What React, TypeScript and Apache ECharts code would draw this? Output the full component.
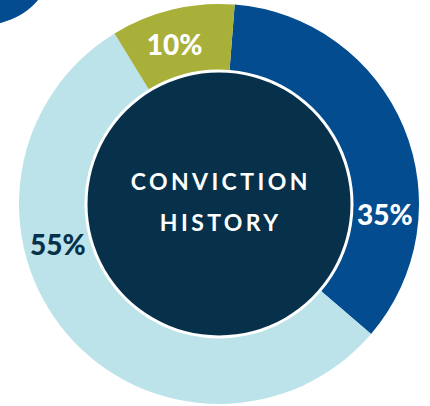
import React, { useEffect, useRef } from "react";
import * as echarts from "echarts";

const categories = ["Conviction A", "Conviction B", "Conviction C"];
const values = [35, 55, 10];
const valueLabels = ["35%", "55%", "10%"];
const colors = ["#024C8F", "#BCE3EA", "#A9B03A"];
const labelColors = ["#FFFFFF", "#07314A", "#FFFFFF"];
const labelAngles = [93.4, 256, 344.5];
const centerTitle = ["CONVICTION", "HISTORY"];

export default function App() {
  const ref = useRef<HTMLDivElement>(null);
  useEffect(() => {
    if (!ref.current) return;
    const chart = echarts.init(ref.current, null, { renderer: "svg" });
    const cx = 219;
    const cy = 204;
    const rIn = 134.5;
    const rOut = 200;
    const rLabel = 166;
    const spacing = 3.4;
    const labelGraphics = valueLabels.map((t, i) => {
      const a = (labelAngles[i] * Math.PI) / 180;
      return {
        type: "text",
        x: cx + rLabel * Math.sin(a),
        y: cy - rLabel * Math.cos(a),
        z: 10,
        style: {
          text: t,
          fill: labelColors[i],
          font: "900 28px Lato",
          textAlign: "center",
          textVerticalAlign: "middle",
        },
      };
    });
    chart.setOption({
      animation: false,
      backgroundColor: "#ffffff",
      series: [
        {
          type: "pie",
          center: [cx, cy],
          radius: [rIn, rOut],
          startAngle: 85.5,
          clockwise: true,
          silent: true,
          label: { show: false },
          labelLine: { show: false },
          itemStyle: { borderWidth: 0 },
          data: categories.map((c, i) => ({
            name: c,
            value: values[i],
            itemStyle: { color: colors[i] },
          })),
        },
      ],
      graphic: [
        {
          type: "circle",
          shape: { cx: -15, cy: -45, r: 69.6 },
          style: { fill: "#024C8F" },
        },
        {
          type: "circle",
          shape: { cx, cy, r: 131.5 },
          style: { fill: "#07314A" },
        },
        ...labelGraphics,
        {
          type: "text",
          x: cx + spacing / 2,
          y: 181,
          z: 10,
          style: {
            text: centerTitle[0],
            fill: "#FFFFFF",
            font: "bold 23px Lato",
            textAlign: "center",
            textVerticalAlign: "middle",
          },
        },
        {
          type: "text",
          x: cx + spacing / 2,
          y: 222,
          z: 10,
          style: {
            text: centerTitle[1],
            fill: "#FFFFFF",
            font: "bold 23px Lato",
            textAlign: "center",
            textVerticalAlign: "middle",
          },
        },
      ],
    });
    const applySpacing = () => {
      if (!ref.current) return;
      ref.current.querySelectorAll("text").forEach((el) => {
        if (centerTitle.includes((el.textContent || "").trim())) {
          (el as SVGTextElement).style.letterSpacing = spacing + "px";
        }
      });
    };
    applySpacing();
    const t = setTimeout(applySpacing, 0);
    const t2 = setTimeout(applySpacing, 100);
    return () => {
      clearTimeout(t);
      clearTimeout(t2);
      chart.dispose();
    };
  }, []);
  return (
    <div
      ref={ref}
      style={{ position: "absolute", left: 0, top: 0, width: 430, height: 406 }}
    />
  );
}
